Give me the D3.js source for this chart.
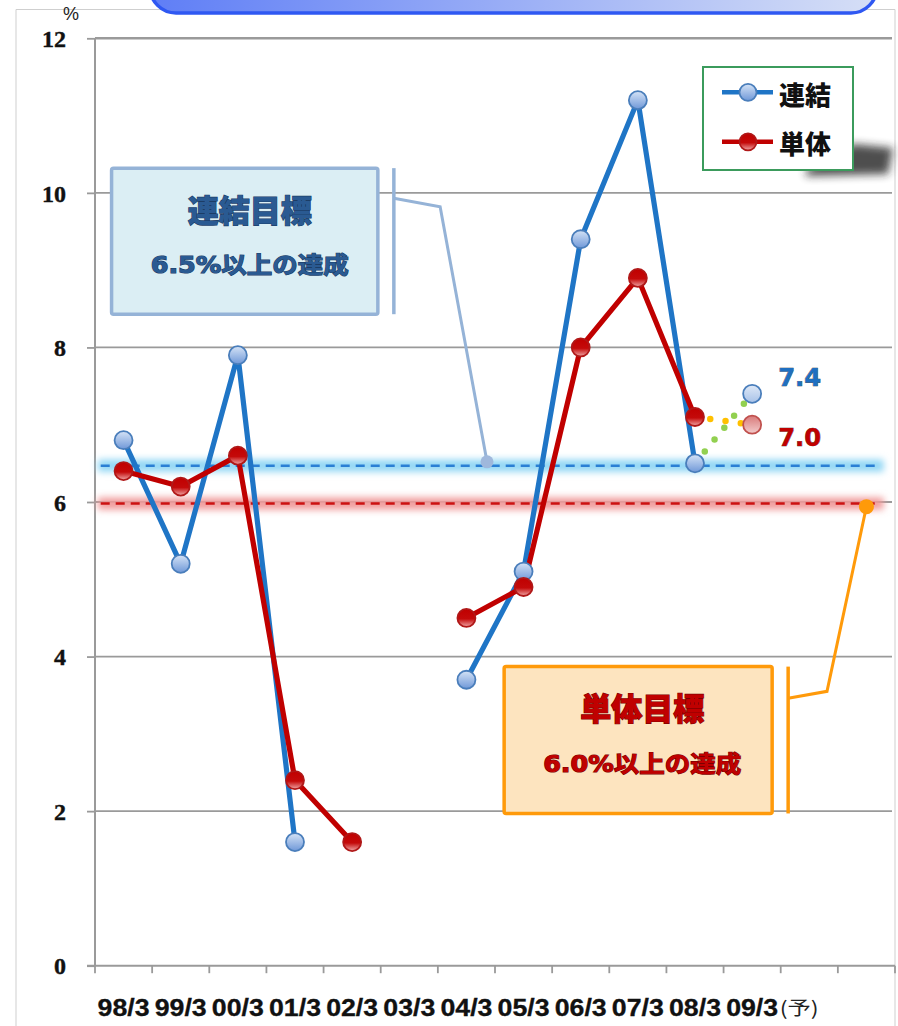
<!DOCTYPE html>
<html><head><meta charset="utf-8">
<script src="https://cdn.jsdelivr.net/npm/d3@7"></script>
<style>
html,body{margin:0;padding:0;background:#fff;}
svg{display:block;}
</style></head>
<body>
<svg id="chart" width="898" height="1026"></svg>
<script>
// ---------- DATA ----------
const categories = ["98/3","99/3","00/3","01/3","02/3","03/3","04/3","05/3","06/3","07/3","08/3","09/3","予","end"];
const tickLabels = ["98/3","99/3","00/3","01/3","02/3","03/3","04/3","05/3","06/3","07/3","08/3","09/3"];
const forecastMark = "(予)";
const consolidated = [6.8, 5.2, 7.9, 1.6, null, null, 3.7, 5.1, 9.4, 11.2, 6.5, 7.4];
const standalone   = [6.4, 6.2, 6.6, 2.4, 1.6, null, 4.5, 4.9, 8.0, 8.9, 7.1, 7.0];
const forecastIndex = 11;             // 09/3 is a forecast
const seriesNames = ["連結", "単体"];
const targetConsolidated = 6.47;      // drawn target line (6.5%)
const targetStandalone = 5.98;        // drawn target line (6.0%)
const yTicks = [0, 2, 4, 6, 8, 10, 12];
const calloutTexts = [["連結目標", "6.5%以上の達成"], ["単体目標", "6.0%以上の達成"]];

// ---------- SETUP ----------
const svg = d3.select("#chart");
const x = d3.scaleBand().domain(categories).range([95, 895]).padding(0);
const y = d3.scaleLinear().domain([0, 12]).range([965.7, 38.3]);
const bw = x.bandwidth();
const cx = i => x(categories[i]) + bw / 2;
const fx = f => x.range()[0] + f * bw;   // fractional category position

const defs = svg.append("defs");
const bannerGrad = defs.append("linearGradient").attr("id","bannerGrad").attr("x1","0").attr("x2","1").attr("y1","0").attr("y2","0");
bannerGrad.append("stop").attr("offset","0%").attr("stop-color","#5f7ef6");
bannerGrad.append("stop").attr("offset","100%").attr("stop-color","#d6dff6");
const blueM = defs.append("linearGradient").attr("id","blueM").attr("x1","0").attr("x2","0").attr("y1","0").attr("y2","1");
blueM.append("stop").attr("offset","0%").attr("stop-color","#d5e3f6");
blueM.append("stop").attr("offset","100%").attr("stop-color","#6f98d8");
const redM = defs.append("linearGradient").attr("id","redM").attr("x1","0").attr("x2","0").attr("y1","0").attr("y2","1");
redM.append("stop").attr("offset","0%").attr("stop-color","#c00000");
redM.append("stop").attr("offset","55%").attr("stop-color","#c40a0a");
redM.append("stop").attr("offset","100%").attr("stop-color","#f0a8a8");
const redF = defs.append("linearGradient").attr("id","redF").attr("x1","0").attr("x2","0").attr("y1","0").attr("y2","1");
redF.append("stop").attr("offset","0%").attr("stop-color","#d87a7a");
redF.append("stop").attr("offset","100%").attr("stop-color","#f3cccc");
const blueF = defs.append("linearGradient").attr("id","blueF").attr("x1","0").attr("x2","0").attr("y1","0").attr("y2","1");
blueF.append("stop").attr("offset","0%").attr("stop-color","#dfe9f7");
blueF.append("stop").attr("offset","100%").attr("stop-color","#a8c2e8");
defs.append("filter").attr("id","blur3").attr("x","-20%").attr("y","-200%").attr("width","140%").attr("height","500%")
  .append("feGaussianBlur").attr("stdDeviation", 3.5);
defs.append("filter").attr("id","blurS").attr("x","-50%").attr("y","-100%").attr("width","200%").attr("height","300%")
  .append("feGaussianBlur").attr("stdDeviation", 4);

// chart area border
svg.append("path").attr("d","M16,1026 L16,9.5 L895,9.5 L895,1026").attr("fill","none").attr("stroke","#cfcfcf").attr("stroke-width",1);

// banner
svg.append("rect").attr("x",150).attr("y",-50).attr("width",727).attr("height",63).attr("rx",26)
  .attr("fill","url(#bannerGrad)").attr("stroke","#2f58f2").attr("stroke-width",3.5);

// gridlines
svg.append("g").selectAll("line").data(yTicks.filter(d => d > 0)).join("line")
  .attr("x1",95).attr("x2",892).attr("y1",d=>y(d)).attr("y2",d=>y(d))
  .attr("stroke","#9a9a9a").attr("stroke-width",d => d === 12 ? 2.5 : 1.8);

// y axis
const yAxis = svg.append("g").attr("transform","translate(95,0)")
  .call(d3.axisLeft(y).tickValues(yTicks).tickSize(8).tickPadding(21).tickFormat(d3.format("d")));
yAxis.select(".domain").attr("stroke","#9a9a9a").attr("stroke-width",2).attr("d","M0,"+y(12)+"V"+y(0));
yAxis.selectAll(".tick line").attr("stroke","#9a9a9a").attr("stroke-width",1.8);
yAxis.selectAll(".tick text").attr("font-family","'Liberation Serif','DejaVu Serif',serif")
  .attr("font-weight","bold").attr("font-size",24).attr("fill","#111").attr("dy","0.34em")
  .attr("stroke","#111").attr("stroke-width",0.4);

svg.append("text").attr("x",71).attr("y",14).attr("text-anchor","middle").attr("dominant-baseline","central")
  .attr("font-family","'Liberation Sans',Arial,sans-serif").attr("font-size",18).attr("fill","#222").text("%");

// x axis
const xg = svg.append("g").attr("transform","translate(0," + y(0) + ")");
xg.append("line").attr("x1",87).attr("x2",895).attr("stroke","#9a9a9a").attr("stroke-width",2);
xg.selectAll("line.tk").data(d3.range(categories.length + 1)).join("line").attr("class","tk")
  .attr("x1",i=>fx(i)).attr("x2",i=>fx(i)).attr("y1",0).attr("y2",7.5).attr("stroke","#9a9a9a").attr("stroke-width",1.8);
xg.selectAll("text.lbl").data(tickLabels).join("text").attr("class","lbl")
  .attr("x",d=>x(d)+bw/2).attr("y",42).attr("text-anchor","middle").attr("dominant-baseline","central")
  .attr("font-family","'Liberation Sans Narrow','Liberation Sans',Arial,sans-serif").attr("font-weight","bold")
  .attr("font-size",23).attr("fill","#111").attr("stroke","#111").attr("stroke-width",0.3)
  .attr("textLength",52).attr("lengthAdjust","spacingAndGlyphs").text(d=>d);
xg.append("text").attr("x",x(tickLabels[tickLabels.length-1]) + bw - 1).attr("y",41).attr("dominant-baseline","central")
  .attr("font-family","'Noto Sans CJK JP',sans-serif").attr("font-size",19).attr("fill","#222")
  .attr("textLength",39).attr("lengthAdjust","spacingAndGlyphs").text(forecastMark);

// target bands
function targetLine(v, glow, dash) {
  svg.append("rect").attr("x",fx(0.05)).attr("width",fx(13.8)-fx(0.05)).attr("y",y(v)-6).attr("height",12)
    .attr("fill",glow).attr("filter","url(#blur3)");
  svg.append("line").attr("x1",fx(0.1)).attr("x2",fx(13.75)).attr("y1",y(v)).attr("y2",y(v))
    .attr("stroke",dash).attr("stroke-width",2.4).attr("stroke-dasharray","9,6");
}
targetLine(targetConsolidated, "#8fd6f4", "#2a7fd4");
targetLine(targetStandalone, "#f09a9a", "#cc1111");

// callouts
function callout(o) {
  const g = svg.append("g");
  g.append("rect").attr("x",fx(o.bx0)).attr("y",y(o.by0)).attr("width",fx(o.bx1)-fx(o.bx0)).attr("height",y(o.by1)-y(o.by0))
    .attr("fill",o.fill).attr("stroke",o.stroke).attr("stroke-width",3.5).attr("rx",2);
  g.append("line").attr("x1",fx(o.barX)).attr("x2",fx(o.barX)).attr("y1",y(o.by0)).attr("y2",y(o.by1))
    .attr("stroke",o.stroke).attr("stroke-width",3.5);
  g.append("path").attr("d",d3.line()(o.pts.map(p=>[fx(p[0]), y(p[1])])))
    .attr("fill","none").attr("stroke",o.stroke).attr("stroke-width",3);
  const end = o.pts[o.pts.length-1];
  g.append("circle").attr("cx",fx(end[0])).attr("cy",y(end[1])).attr("r",o.dotR).attr("fill",o.dot);
  const tcx = (fx(o.bx0)+fx(o.bx1))/2 + o.tdx;
  g.append("text").attr("x",tcx).attr("y",y(o.by0)+40).attr("text-anchor","middle").attr("dominant-baseline","central")
    .attr("font-family","'Noto Sans CJK JP',sans-serif").attr("font-weight",900).attr("font-size",31)
    .attr("fill",o.text).attr("stroke",o.textStroke).attr("stroke-width",1.2).attr("paint-order","stroke")
    .text(o.lines[0]);
  g.append("text").attr("x",tcx).attr("y",y(o.by0)+97).attr("text-anchor","middle").attr("dominant-baseline","central")
    .attr("font-family","'DejaVu Sans','Noto Sans CJK JP',sans-serif").attr("font-weight","bold").attr("font-size",23)
    .attr("fill",o.text).attr("stroke",o.textStroke).attr("stroke-width",1.2).attr("paint-order","stroke")
    .attr("textLength",198).attr("lengthAdjust","spacingAndGlyphs")
    .text(o.lines[1]);
}
callout({bx0:0.29, bx1:4.95, by0:10.32, by1:8.43, barX:5.23,
  pts:[[5.23,9.93],[6.04,9.82],[6.86,targetConsolidated+0.05]],
  fill:"#dbeef4", stroke:"#95b3d7", dot:"#9fb8dc", dotR:6.5, text:"#2a5a92", textStroke:"#1c3d66", tdx:5, lines:calloutTexts[0]});
callout({bx0:7.16, bx1:11.85, by0:3.87, by1:1.97, barX:12.13,
  pts:[[12.13,3.46],[12.81,3.55],[13.5,targetStandalone-0.04]],
  fill:"#fde4bf", stroke:"#ff9a0a", dot:"#ff9a0a", dotR:7.5, text:"#c00000", textStroke:"#7a0000", tdx:4, lines:calloutTexts[1]});

// series lines
function segments(vals) {
  const segs = []; let cur = [];
  vals.forEach((v,i) => {
    if (i >= forecastIndex) return;
    if (v == null) { if (cur.length) segs.push(cur); cur = []; }
    else cur.push([cx(i), y(v)]);
  });
  if (cur.length) segs.push(cur);
  return segs;
}
const lineGen = d3.line();
const series = [
  {vals: consolidated, color:"#1f75c6", dotColor:"#92d050", fill:"url(#blueM)", ffill:"url(#blueF)", stroke:"#4a7ebb", fstroke:"#4a7ebb"},
  {vals: standalone, color:"#c00000", dotColor:"#ffc000", fill:"url(#redM)", ffill:"url(#redF)", stroke:"#b01818", fstroke:"#c0504d"}
];
series.forEach(s => {
  svg.append("g").selectAll("path").data(segments(s.vals)).join("path")
    .attr("d", lineGen).attr("fill","none").attr("stroke",s.color).attr("stroke-width",5.2).attr("stroke-linejoin","round");
});
series.forEach(s => {
  const a = forecastIndex - 1;
  svg.append("path").attr("d", lineGen([[cx(a), y(s.vals[a])],[cx(forecastIndex), y(s.vals[forecastIndex])]]))
    .attr("fill","none").attr("stroke",s.dotColor).attr("stroke-width",6.5).attr("stroke-linecap","round")
    .attr("stroke-dasharray","0,15.4");
});
series.forEach(s => {
  const pts = s.vals.map((v,i)=>({v,i})).filter(d => d.v != null);
  svg.append("g").selectAll("circle").data(pts).join("circle")
    .attr("cx", d=>cx(d.i)).attr("cy", d=>y(d.v)).attr("r", 9)
    .attr("fill", d => d.i === forecastIndex ? s.ffill : s.fill)
    .attr("stroke", d => d.i === forecastIndex ? s.fstroke : s.stroke).attr("stroke-width",1.8);
});

// forecast value labels
[[consolidated, "#1f6fc0", -16], [standalone, "#c00000", 13]].forEach(([vals, col, dy]) => {
  svg.append("text").attr("x", cx(forecastIndex)+26).attr("y", y(vals[forecastIndex]) + dy)
    .attr("dominant-baseline","central").attr("font-family","'DejaVu Sans',Verdana,sans-serif").attr("font-weight","bold")
    .attr("font-size",24).attr("fill",col).attr("stroke","#333").attr("stroke-width",0.6).attr("paint-order","stroke")
    .attr("textLength",43).attr("lengthAdjust","spacingAndGlyphs")
    .text(d3.format(".1f")(vals[forecastIndex]));
});

// legend
const lg = svg.append("g");
lg.append("path").attr("d","M806,170 L853,144 L893,148 L888,174 L806,176 Z").attr("fill","#222").attr("opacity",0.8).attr("filter","url(#blurS)");
lg.append("rect").attr("x",703).attr("y",67).attr("width",150).attr("height",103).attr("fill","#fff").attr("stroke","#3b9b5c").attr("stroke-width",2);
series.forEach((s,k) => {
  const ly = 92.3 + k*49.5;
  lg.append("line").attr("x1",722).attr("x2",773).attr("y1",ly).attr("y2",ly).attr("stroke",s.color).attr("stroke-width",4.5);
  lg.append("circle").attr("cx",748).attr("cy",ly).attr("r",8.5).attr("fill",s.fill).attr("stroke",s.stroke).attr("stroke-width",1.8);
  lg.append("text").attr("x",779).attr("y",ly+1).attr("dominant-baseline","central")
    .attr("font-family","'Noto Sans CJK JP',sans-serif").attr("font-weight",900).attr("font-size",26).attr("fill","#111")
    .text(seriesNames[k]);
});
</script>
</body></html>
